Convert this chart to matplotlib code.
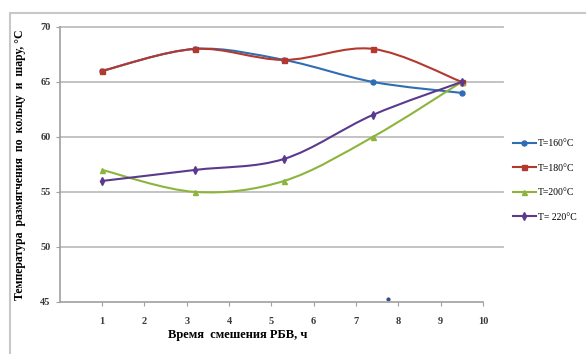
import numpy as np
import matplotlib.pyplot as plt
from matplotlib.path import Path
from matplotlib.patches import PathPatch, Rectangle
from matplotlib.lines import Line2D

# time of mixing, h
x = [1, 3.2, 5.3, 7.4, 9.5]

t160 = [66, 68, 67, 65, 64]
t180 = [66, 68, 67, 68, 65]
t200 = [57, 55, 56, 60, 65]
t220 = [56, 57, 58, 62, 65]

labels = ['Т=160°С', 'Т=180°С', 'Т=200°С', 'Т= 220°С']
colors = ['#2F6DB5', '#B5382F', '#8DB43C', '#5B3A8E']
markers = ['o', 's', '^', 'd']

stray_x = [7.76]
stray_y = [45.3]

xticks = list(range(1, 11))
yticks = [45, 50, 55, 60, 65, 70]


def smooth_path(xs, ys):
    # excel-like smoothed line: cubic bezier through the points
    p = np.column_stack([xs, ys]).astype(float)
    verts = [p[0]]
    codes = [Path.MOVETO]
    n = len(p)
    for i in range(n - 1):
        p0 = p[i - 1] if i > 0 else p[i]
        p3 = p[i + 2] if i + 2 < n else p[i + 1]
        c1 = p[i] + (p[i + 1] - p0) / 6
        c2 = p[i + 1] - (p3 - p[i]) / 6
        verts += [c1, c2, p[i + 1]]
        codes += [Path.CURVE4] * 3
    return Path(verts, codes)


plt.rcParams['font.family'] = ['Liberation Serif', 'DejaVu Serif']

fig = plt.figure(figsize=(5.86, 3.54), dpi=100)
ax = fig.add_axes([0.102, 0.147, 0.722, 0.777])

# chart frame
fig.patches.append(Rectangle((0.017, -0.2), 1.2, 0.963 + 0.2, transform=fig.transFigure,
                             fill=False, edgecolor='#C8C8C8', lw=1.5, clip_on=False))

for yy in yticks[1:]:
    ax.axhline(yy, xmin=0, xmax=1.047, color='#BEBEBE', lw=1.3, clip_on=False, zorder=0)

handles = []
for ys, c, m, lab in zip([t160, t180, t200, t220], colors, markers, labels):
    ax.add_patch(PathPatch(smooth_path(x, ys), fill=False, edgecolor=c, lw=1.5, zorder=2))
    ax.plot(x, ys, ls='none', marker=m, ms=3.6, color=c, zorder=3)
    handles.append(Line2D([], [], color=c, lw=1.5, marker=m, ms=3.6, label=lab))

ax.plot(stray_x, stray_y, ls='none', marker='o', ms=2, color='#2F4F8F')

ax.set_xlim(0, 10)
ax.set_ylim(45, 70)
ax.set_xticks(xticks)
ax.set_yticks(yticks)
ax.tick_params(axis='both', length=3, color='#A0A0A0', labelsize=7.5, labelcolor='#3A3A3A')
ax.tick_params(axis='x', pad=8)
for lbl in ax.get_xticklabels() + ax.get_yticklabels():
    lbl.set_fontweight('bold')

for s in ['top', 'right']:
    ax.spines[s].set_visible(False)
for s in ['left', 'bottom']:
    ax.spines[s].set_color('#A0A0A0')
    ax.spines[s].set_linewidth(1.2)

ax.set_xlabel('Время  смешения РБВ, ч', fontsize=9, fontweight='bold', labelpad=4)
ax.xaxis.set_label_coords(0.42, -0.1)
ax.set_ylabel('Температура  размягчения  по  кольцу  и  шару, °С', fontsize=8.5, fontweight='bold')
ax.yaxis.set_label_coords(-0.08, 0.5)

fig.legend(handles=handles, loc='upper left', bbox_to_anchor=(0.86, 0.632), frameon=False,
           fontsize=7, handlelength=2.4, handletextpad=0.2, labelspacing=1.6)

fig.savefig('out.png', dpi=100)
